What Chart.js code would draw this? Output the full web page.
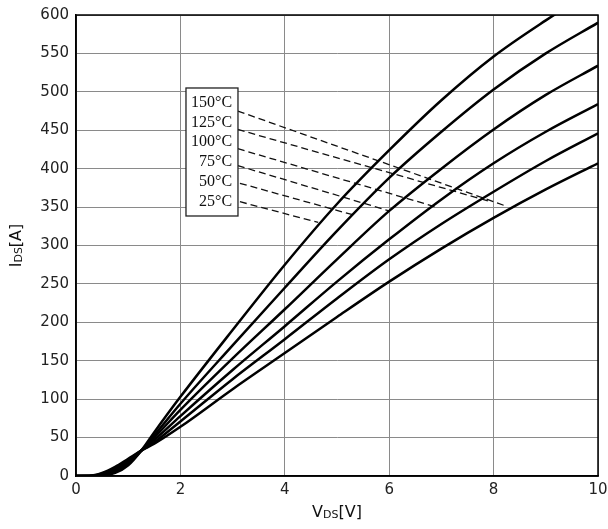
<!DOCTYPE html>
<html>
<head>
<meta charset="utf-8">
<script src="https://cdn.jsdelivr.net/npm/chart.js@4.4.1/dist/chart.umd.min.js"></script>
<style>
  html, body { margin: 0; background: #fff; }
</style>
</head>
<body>
<canvas id="chart" width="608" height="529"></canvas>
<script>
// drain-source voltage [V] sample points
const VDS = [0, 0.25, 0.5, 0.75, 1, 1.25, 1.5, 2, 3, 4, 5, 6, 7, 8, 9, 10];

// drain current [A] per junction temperature
const I_25C  = [0, 0,   0.5, 4,   14,   33, 57, 103, 190, 275, 354, 424, 489, 546, 593, 636];
const I_50C  = [0, 0,   1,   5.5, 16,   33, 53, 94,  170, 245, 319, 388, 448, 503, 550, 590];
const I_75C  = [0, 0,   1.5, 7,   18,   33, 50, 86,  153, 217, 282, 345, 400, 451, 496, 534];
const I_100C = [0, 0,   2,   8.5, 19.5, 33, 47, 78,  138, 195, 253, 308, 360, 407, 448, 484];
const I_125C = [0, 0,   3,   10,  21,   33, 44, 71,  126, 178, 231, 282, 328, 370, 410, 446];
const I_150C = [0, 0.2, 4,   12,  22.5, 33, 42, 64,  113, 160, 207, 253, 296, 336, 373, 407];

// label box, top to bottom
const TEMP_LABELS = ['150°C', '125°C', '100°C', '75°C', '50°C', '25°C'];
const LABEL_I = [486, 460, 435, 409, 383, 357];
// leader lines from the box to the curves, [V, I]
const LEADER_START = [[3.10, 475], [3.10, 451], [3.10, 426], [3.10, 404], [3.14, 381], [3.14, 357]];
const LEADER_END   = [[8.25, 351], [7.90, 358], [6.90, 350], [6.00, 345], [5.30, 340], [4.64, 330]];

const X_TICKS = [0, 2, 4, 6, 8, 10];
const Y_TICKS = [0, 50, 100, 150, 200, 250, 300, 350, 400, 450, 500, 550, 600];

const toPts = ys => VDS.map((v, i) => ({ x: v, y: ys[i] }));

const curves = [I_25C, I_50C, I_75C, I_100C, I_125C, I_150C].map(ys => ({
  data: toPts(ys),
  borderColor: '#000',
  borderWidth: 2.5,
  pointRadius: 0,
  cubicInterpolationMode: 'monotone',
}));

const leaders = LEADER_START.map((s, i) => ({
  data: [{ x: s[0], y: s[1] }, { x: LEADER_END[i][0], y: LEADER_END[i][1] }],
  borderColor: '#111',
  borderWidth: 1.3,
  borderDash: [7, 4],
  pointRadius: 0,
  tension: 0,
}));

const tickFont = { family: "'DejaVu Sans', sans-serif", size: 15 };

function drawTitle(ctx, parts, cx, cy, angle) {
  ctx.save();
  ctx.translate(cx, cy);
  ctx.rotate(angle);
  let w = 0;
  parts.forEach(p => { ctx.font = p.size + "px 'DejaVu Sans'"; w += ctx.measureText(p.t).width; });
  let x = -w / 2;
  ctx.fillStyle = '#111';
  ctx.textBaseline = 'alphabetic';
  parts.forEach(p => {
    ctx.font = p.size + "px 'DejaVu Sans'";
    ctx.fillText(p.t, x, p.dy);
    x += ctx.measureText(p.t).width;
  });
  ctx.restore();
}

const decor = {
  id: 'decor',
  afterDatasetsDraw(chart) {
    const { ctx, chartArea: a, scales: { x, y } } = chart;
    // frame
    ctx.save();
    ctx.strokeStyle = '#000';
    ctx.lineWidth = 1.5;
    ctx.strokeRect(a.left, a.top, a.right - a.left, a.bottom - a.top);

    // label box
    const bl = x.getPixelForValue(2.107), br = x.getPixelForValue(3.103);
    const bt = y.getPixelForValue(505), bb = y.getPixelForValue(338.4);
    ctx.fillStyle = '#fff';
    ctx.fillRect(bl, bt, br - bl, bb - bt);
    ctx.lineWidth = 1.3;
    ctx.strokeStyle = '#222';
    ctx.strokeRect(bl, bt, br - bl, bb - bt);
    ctx.fillStyle = '#111';
    ctx.font = "16px 'Liberation Serif', serif";
    ctx.textAlign = 'right';
    ctx.textBaseline = 'middle';
    TEMP_LABELS.forEach((t, i) => {
      ctx.fillText(t, x.getPixelForValue(2.99), y.getPixelForValue(LABEL_I[i]));
    });
    ctx.restore();

    // axis titles with subscripts
    const midX = (a.left + a.right) / 2, midY = (a.top + a.bottom) / 2;
    drawTitle(ctx, [{ t: 'V', size: 16, dy: 0 }, { t: 'DS', size: 11, dy: 1 }, { t: '[V]', size: 16, dy: 0 }],
      midX, 517, 0);
    drawTitle(ctx, [{ t: 'I', size: 16, dy: 0 }, { t: 'DS', size: 11, dy: 1 }, { t: '[A]', size: 16, dy: 0 }],
      21, midY, -Math.PI / 2);
  }
};

new Chart(document.getElementById('chart'), {
  type: 'line',
  data: { datasets: [...curves, ...leaders] },
  options: {
    responsive: false,
    animation: false,
    devicePixelRatio: 1,
    layout: { padding: { top: 15, right: 10, left: 0, bottom: 0 } },
    plugins: { legend: { display: false }, tooltip: { enabled: false } },
    scales: {
      x: {
        type: 'linear', min: 0, max: 10,
        afterBuildTicks: s => { s.ticks = X_TICKS.map(v => ({ value: v })); },
        ticks: { font: tickFont, color: '#222', padding: 5 },
        grid: { color: '#8a8a8a', lineWidth: 1, drawTicks: false },
        border: { color: '#000', width: 1.5 },
        afterFit: s => { s.height = 53; s.paddingLeft = 0; s.paddingRight = 0; },
      },
      y: {
        type: 'linear', min: 0, max: 600,
        afterBuildTicks: s => { s.ticks = Y_TICKS.map(v => ({ value: v })); },
        ticks: { font: tickFont, color: '#222', padding: 7 },
        grid: { color: '#8a8a8a', lineWidth: 1, drawTicks: false },
        border: { color: '#000', width: 1.5 },
        afterFit: s => { s.width = 76; s.paddingTop = 0; s.paddingBottom = 0; },
      },
    },
  },
  plugins: [decor],
});
</script>
</body>
</html>
